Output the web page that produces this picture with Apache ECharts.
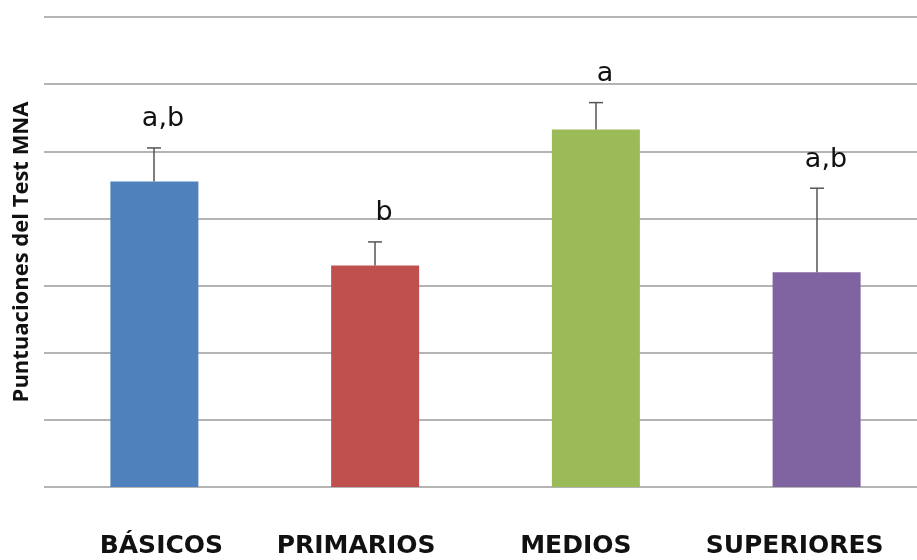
<!DOCTYPE html>
<html>
<head>
<meta charset="utf-8">
<script src="https://cdn.jsdelivr.net/npm/echarts@6/dist/echarts.min.js"></script>
<style>
  html, body { margin: 0; padding: 0; background: #fff; }
  #chart { width: 917px; height: 560px; }
</style>
</head>
<body>
<div id="chart"></div>
<script>
// Mean MNA score per education level, upper end of the error bar, and group letters
const categories = ['BÁSICOS', 'PRIMARIOS', 'MEDIOS', 'SUPERIORES'];
const means = [18.2, 13.2, 21.3, 12.8];
const upperErr = [20.2, 14.6, 22.9, 17.8];
const groups = ['a,b', 'b', 'a', 'a,b'];
const yTicks = [0, 4, 8, 12, 16, 20, 24, 28];

const barColors = ['#4F81BD', '#C0504D', '#9BBB59', '#8064A2'];
// horizontal nudges of the category names under the axis
const nameShift = [7, -19, -20, -22];

const chart = echarts.init(document.getElementById('chart'), null, { renderer: 'canvas' });

const rich = {};
nameShift.forEach((s, i) => {
  rich['c' + i] = {
    fontFamily: 'DejaVu Sans', fontWeight: 'bold', fontSize: 25, color: '#111',
    padding: s >= 0 ? [0, 0, 0, 2 * s] : [0, -2 * s, 0, 0]
  };
});

chart.setOption({
  animation: false,
  backgroundColor: '#fff',
  grid: { left: 44, top: 17, bottom: 73, width: 883, outerBoundsMode: 'none', containLabel: false },
  xAxis: {
    type: 'category',
    data: categories,
    axisLine: { show: false },
    axisTick: { show: false },
    axisLabel: {
      margin: 47,
      interval: 0,
      formatter: (v, i) => '{c' + i + '|' + v + '}',
      rich: rich
    }
  },
  yAxis: {
    type: 'value',
    min: yTicks[0],
    max: yTicks[yTicks.length - 1],
    interval: yTicks[1] - yTicks[0],
    name: 'Puntuaciones del Test MNA',
    nameLocation: 'middle',
    nameGap: 11,
    nameTextStyle: { fontFamily: 'Open Sans', fontWeight: 'bold', fontSize: 22, color: '#111' },
    axisLabel: { show: false },
    axisLine: { show: false },
    axisTick: { show: false },
    splitLine: { lineStyle: { color: '#b4b4b4', width: 2 } }
  },
  series: [
    {
      type: 'bar',
      barWidth: 88,
      data: means.map((v, i) => ({ value: v, itemStyle: { color: barColors[i] } }))
    },
    {
      type: 'custom',
      data: means.map((m, i) => [i, m, upperErr[i]]),
      renderItem: (params, api) => {
        const i = api.value(0);
        const base = api.coord([i, api.value(1)]);
        const top = api.coord([i, api.value(2)]);
        const x = Math.round(base[0]);
        const style = { stroke: '#555', lineWidth: 1.5 };
        return {
          type: 'group',
          children: [
            { type: 'line', shape: { x1: x, y1: base[1], x2: x, y2: top[1] }, style },
            { type: 'line', shape: { x1: x - 7, y1: top[1], x2: x + 7, y2: top[1] }, style },
            {
              type: 'text',
              style: {
                x: x + 9, y: top[1] - 15,
                text: groups[params.dataIndex],
                align: 'center', verticalAlign: 'bottom',
                font: '27px "DejaVu Sans"', fill: '#111'
              }
            }
          ]
        };
      },
      z: 5
    }
  ]
});
</script>
</body>
</html>
